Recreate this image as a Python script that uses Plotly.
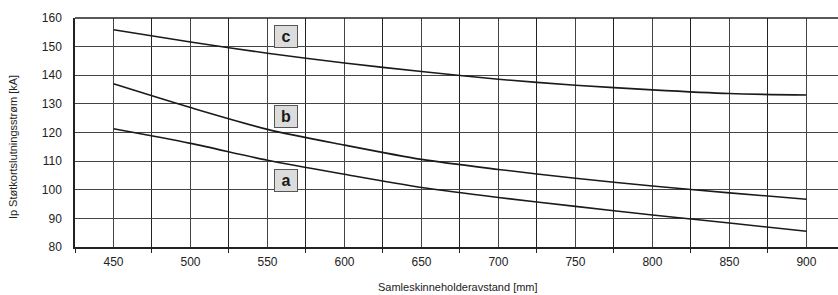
import plotly.graph_objects as go

x_vals = [450, 500, 550, 600, 650, 700, 750, 800, 850, 900]
curve_a = [121.3, 116.2, 110.3, 105.4, 100.8, 97.3, 94.2, 91.2, 88.4, 85.5]
curve_b = [137.0, 128.7, 121.1, 115.6, 110.6, 107.1, 104.0, 101.3, 98.9, 96.7]
curve_c = [155.9, 151.6, 147.7, 144.3, 141.3, 138.6, 136.5, 134.9, 133.6, 133.1]

label_names = ["a", "b", "c"]
label_x = [562, 562, 562]
label_y = [103.4, 125.6, 153.4]

x_ticks = [450, 500, 550, 600, 650, 700, 750, 800, 850, 900]
y_ticks = [80, 90, 100, 110, 120, 130, 140, 150, 160]

x_title = "Samleskinneholderavstand [mm]"
y_title = "Ip Støtkortslutningsstrøm [kA]"

fig = go.Figure()
for ys in (curve_a, curve_b, curve_c):
    fig.add_trace(go.Scatter(x=x_vals, y=ys, mode="lines",
                             line=dict(color="#1a1a1a", width=1.6, shape="spline", smoothing=0.8),
                             showlegend=False, hoverinfo="skip"))

for n, lx, ly in zip(label_names, label_x, label_y):
    fig.add_annotation(x=lx, y=ly, text="<b>%s</b>" % n, showarrow=False,
                       font=dict(family="Liberation Sans, Arial", size=16, color="#1a1a1a"),
                       bgcolor="#dcdcdc", bordercolor="#555555", borderwidth=1,
                       width=20, height=19, borderpad=1)

fig.add_annotation(xref="paper", yref="paper", x=0.502, y=-0.176, text=x_title,
                   showarrow=False, font=dict(size=11, color="#222222"),
                   xanchor="center", yanchor="middle")
fig.add_annotation(xref="paper", yref="paper", x=-0.0813, y=0.436, text=y_title,
                   showarrow=False, font=dict(size=11, color="#222222"), textangle=-90,
                   xanchor="center", yanchor="middle")

fig.update_layout(
    width=838, height=295,
    margin=dict(l=75, r=0, t=18, b=48),
    paper_bgcolor="white", plot_bgcolor="white",
    font=dict(family="Liberation Sans, Arial", size=12, color="#222222"),
    xaxis=dict(range=[425, 920.5], tickvals=x_ticks, ticktext=[str(v) for v in x_ticks],
               showgrid=True, gridcolor="#444444", gridwidth=1, ticks="",
               ticklabelstandoff=3,
               showline=True, linecolor="#222222", linewidth=1.5, zeroline=False,
               minor=dict(tick0=425, dtick=50, showgrid=True, gridcolor="#222222", gridwidth=1,
                          ticks="outside", ticklen=4, tickcolor="#222222"),
               fixedrange=True),
    yaxis=dict(range=[80, 160], tickvals=y_ticks, showgrid=True, gridcolor="#444444", gridwidth=1,
               ticks="", ticklabelstandoff=9,
               showline=True, linecolor="#222222", linewidth=1.5, zeroline=False,
               fixedrange=True),
)
fig.add_shape(type="line", xref="paper", yref="paper", x0=0, x1=1, y0=1, y1=1,
              line=dict(color="#222222", width=1.5))
fig.write_html("out.html", config={"displayModeBar": False},
               post_script="document.body.style.margin='0';document.body.style.overflow='hidden';")
